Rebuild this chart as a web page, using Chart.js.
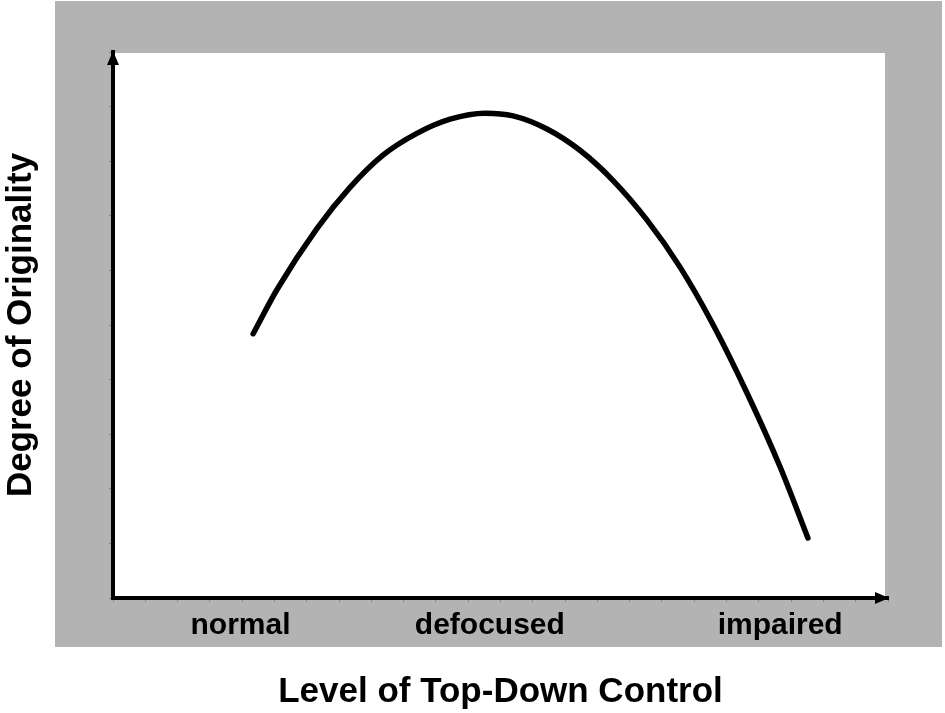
<!DOCTYPE html>
<html>
<head>
<meta charset="utf-8">
<script src="https://cdn.jsdelivr.net/npm/chart.js@4.4.1/dist/chart.umd.min.js"></script>
<style>
  html, body { margin: 0; padding: 0; background: #fff; }
</style>
</head>
<body>
<canvas id="grafico" width="945" height="713"></canvas>
<script>
// curve (x: 0..24 along the axis, y: 0..10 up the axis)
const curveX = [4.34, 5.08, 6.32, 7.34, 8.36, 9.41, 10.44, 11.52, 12.39, 13.44, 14.46, 15.48, 16.54, 17.56, 18.58, 19.63, 20.66, 21.52];
const curveY = [4.84, 5.65, 6.77, 7.52, 8.11, 8.51, 8.77, 8.88, 8.83, 8.59, 8.20, 7.65, 6.92, 6.06, 5.01, 3.76, 2.40, 1.10];

// category labels under the x axis and where they sit
const levelNames = ['normal', 'defocused', 'impaired'];
const levelPos = [3.95, 11.67, 20.66];

const xTitle = 'Level of Top-Down Control';
const yTitle = 'Degree of Originality';

const fontFamily = '"Liberation Sans", Arial, sans-serif';
const labelFont = { family: fontFamily, size: 30, weight: 'bold' };
const titleFont = { family: fontFamily, size: 35, weight: 'bold' };

const canvas = document.getElementById('grafico');

const fondo = {
    id: 'fondo',
    beforeDraw(chart) {
        const { ctx, chartArea: a } = chart;
        ctx.save();
        ctx.fillStyle = '#b3b3b3';
        ctx.fillRect(55, 1, 887, 646);
        ctx.fillStyle = '#fff';
        ctx.fillRect(a.left, a.top + 1, a.right - a.left - 3, a.bottom - a.top - 1);
        ctx.restore();
    },
    afterDraw(chart) {
        const { ctx, chartArea: a } = chart;
        ctx.save();
        ctx.fillStyle = '#000';
        // y arrow
        ctx.beginPath();
        ctx.moveTo(a.left, a.top - 1);
        ctx.lineTo(a.left - 6, a.top + 13);
        ctx.lineTo(a.left + 6, a.top + 13);
        ctx.closePath();
        ctx.fill();
        // x arrow
        ctx.beginPath();
        ctx.moveTo(a.right + 1, a.bottom);
        ctx.lineTo(a.right - 13, a.bottom - 6);
        ctx.lineTo(a.right - 13, a.bottom + 6);
        ctx.closePath();
        ctx.fill();
        ctx.restore();
    }
};

const tickColor = (ctx) => {
    if (ctx.tick && levelPos.includes(ctx.tick.value)) return 'rgba(0,0,0,0)';
    return 'rgba(0,0,0,0.25)';
};

const config = {
    type: 'line',
    data: {
        datasets: [{
            data: curveX.map((x, i) => ({ x: x, y: curveY[i] })),
            borderColor: '#000',
            borderWidth: 5.5,
            borderCapStyle: 'round',
            pointRadius: 0,
            fill: false,
            cubicInterpolationMode: 'monotone',
            clip: false
        }]
    },
    options: {
        responsive: false,
        devicePixelRatio: 1,
        animation: false,
        layout: { padding: { left: 0, top: 52, right: 57, bottom: 0 } },
        plugins: {
            legend: { display: false },
            tooltip: { enabled: false }
        },
        scales: {
            x: {
                type: 'linear',
                min: 0,
                max: 24,
                afterBuildTicks: (scale) => {
                    const ticks = [];
                    for (let i = 0; i <= 24; i++) ticks.push({ value: i });
                    levelPos.forEach((v) => ticks.push({ value: v }));
                    ticks.sort((a, b) => a.value - b.value);
                    scale.ticks = ticks;
                },
                ticks: {
                    autoSkip: false,
                    maxRotation: 0,
                    minRotation: 0,
                    padding: 6,
                    color: '#000',
                    font: labelFont,
                    callback: (v) => {
                        const i = levelPos.indexOf(v);
                        return i >= 0 ? levelNames[i] : '';
                    }
                },
                grid: { drawOnChartArea: false, drawTicks: true, tickLength: 4, color: tickColor, lineWidth: 1 },
                border: { display: true, color: '#000', width: 4 },
                title: { display: true, text: xTitle, color: '#000', font: titleFont, padding: { top: 21, bottom: 0 } }
            },
            y: {
                type: 'linear',
                min: 0,
                max: 10,
                ticks: { display: false, stepSize: 1 },
                grid: { drawOnChartArea: false, drawTicks: true, tickLength: 4, color: 'rgba(0,0,0,0.25)', lineWidth: 1 },
                border: { display: true, color: '#000', width: 4 },
                title: { display: true, text: yTitle, color: '#000', font: titleFont, padding: { top: 0, bottom: 67 } }
            }
        }
    },
    plugins: [fondo]
};

const myChart = new Chart(canvas, config);
</script>
</body>
</html>
